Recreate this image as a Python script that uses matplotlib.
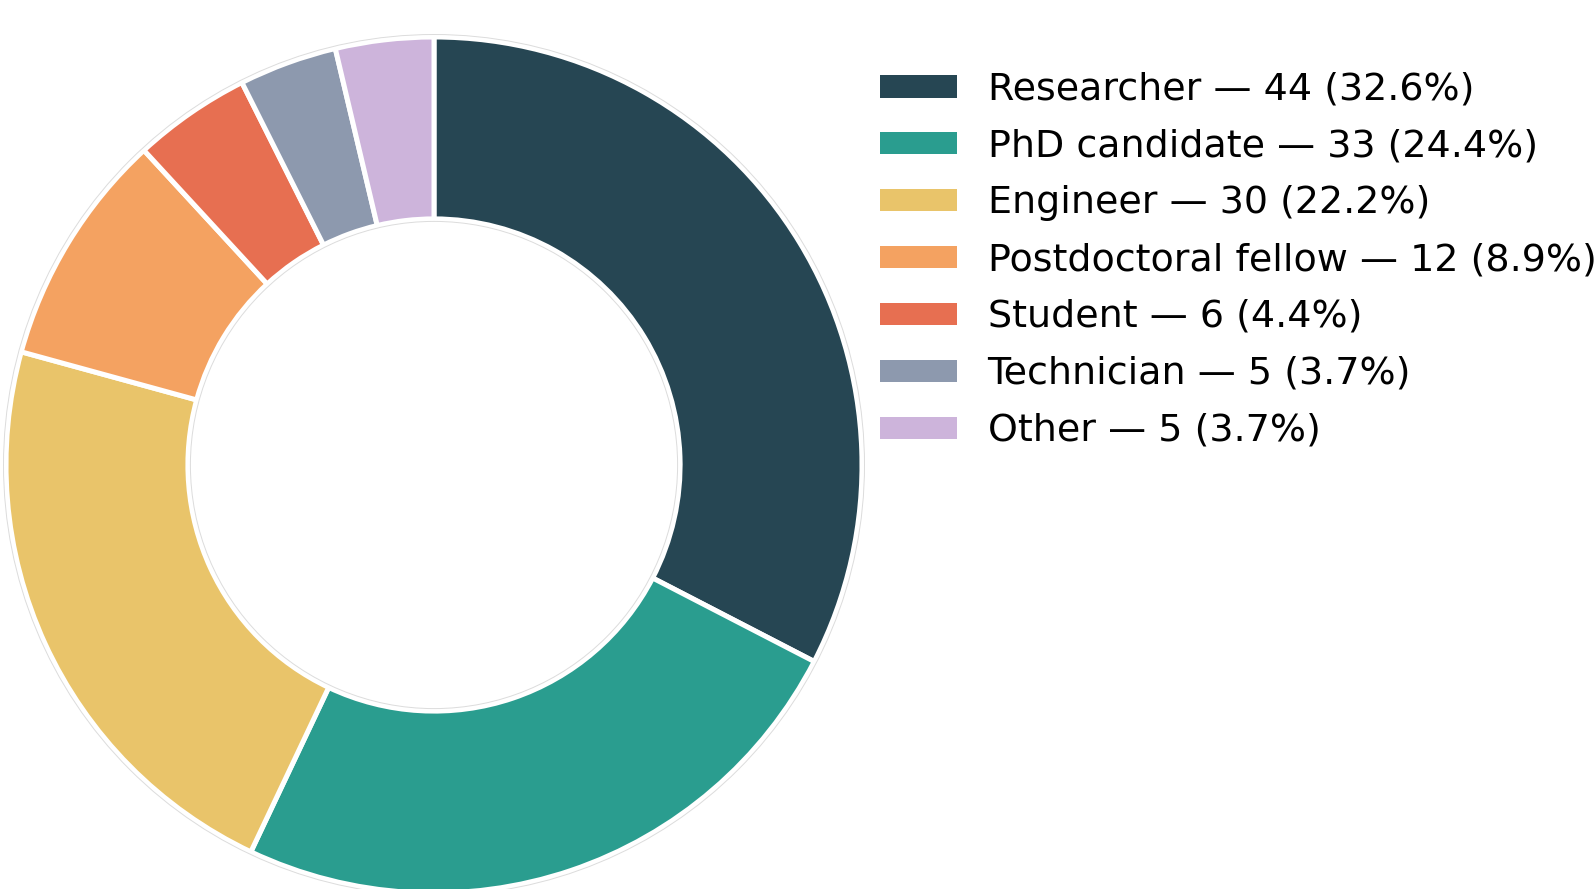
import matplotlib
matplotlib.use("Agg")
import matplotlib.pyplot as plt
from matplotlib.patches import Circle

categories = ["Researcher", "PhD candidate", "Engineer", "Postdoctoral fellow",
              "Student", "Technician", "Other"]
counts = [44, 33, 30, 12, 6, 5, 5]
colors = ["#264653", "#2a9d8f", "#e9c46a", "#f4a261", "#e76f51", "#8d99ae", "#cdb4db"]

total = sum(counts)
labels = [f"{c} \u2014 {n} ({n / total * 100:.1f}%)" for c, n in zip(categories, counts)]

W, H = 1595, 889
fig = plt.figure(figsize=(W / 100, H / 100), dpi=100)

cx, cy, r = 434, 889 - 465, 428
ring_width = 0.425
ax = fig.add_axes([(cx - r) / W, (cy - r) / H, 2 * r / W, 2 * r / H])
wedges, _ = ax.pie(counts, colors=colors, startangle=90, counterclock=False,
                   radius=1.0,
                   wedgeprops=dict(width=ring_width, edgecolor="white", linewidth=3.6))
# faint outline around the ring
px = 1.0 / r
for rad in (1.0 + 2.5 * px, 1.0 - ring_width - 2.5 * px):
    ax.add_patch(Circle((0, 0), rad, fill=False, edgecolor="#dcdcdc",
                        linewidth=0.7, clip_on=False))
ax.set_xlim(-1, 1)
ax.set_ylim(-1, 1)
ax.set_aspect("equal")
ax.axis("off")

fig.legend(wedges, labels, loc="upper left",
           bbox_to_anchor=(843 / W, (889 - 37) / H),
           frameon=False, fontsize=27.4, labelspacing=0.55,
           handlelength=2.15, handleheight=0.72, handletextpad=0.75)

fig.savefig("out.png", dpi=100)
